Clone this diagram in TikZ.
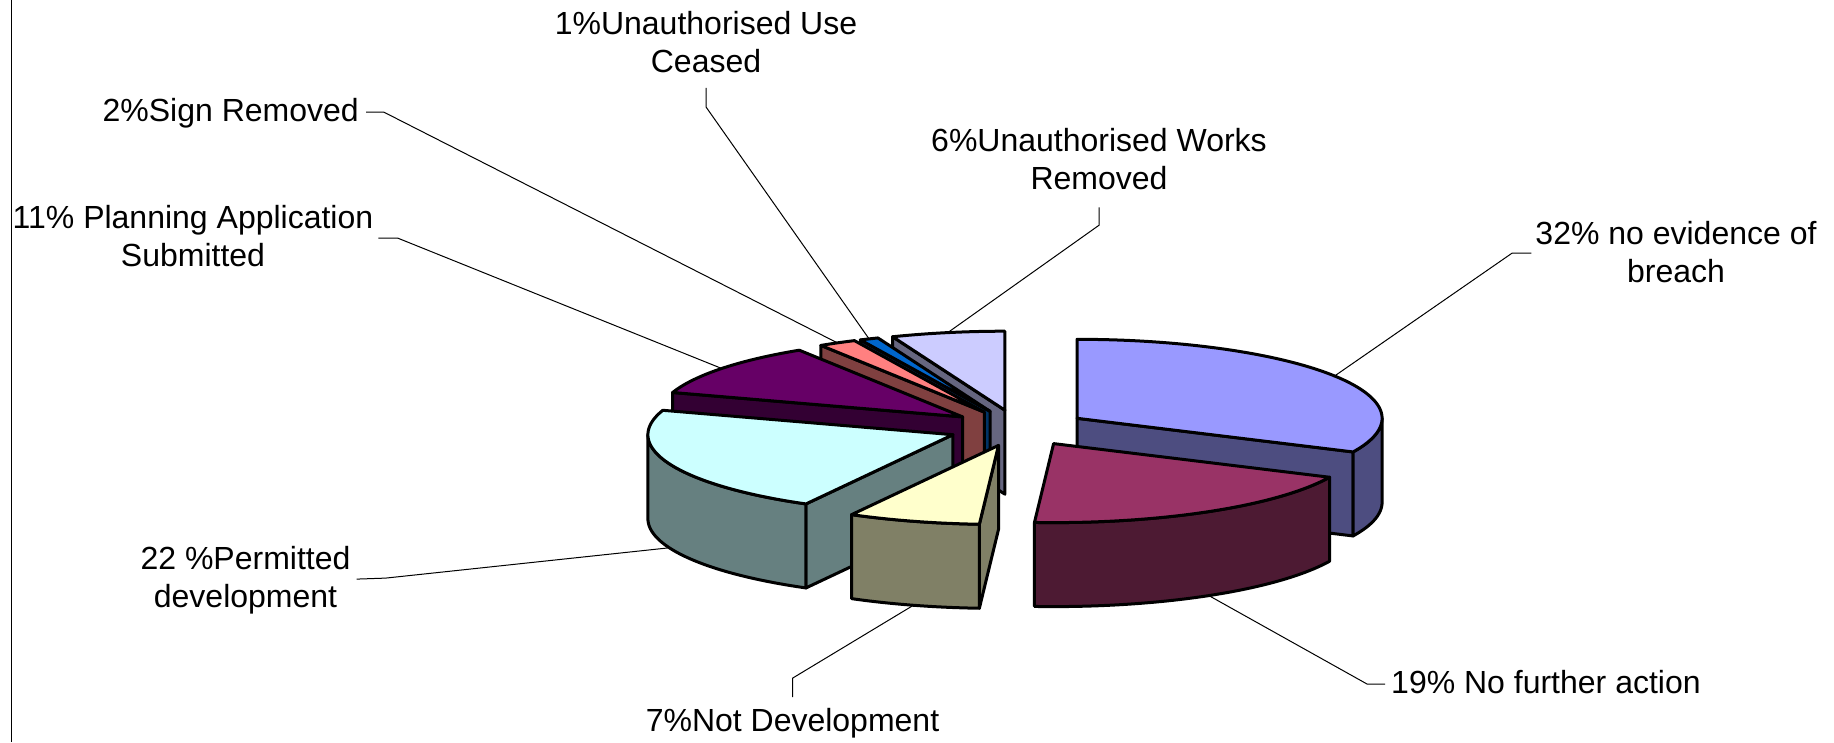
\documentclass[tikz,border=0pt]{standalone}
\usepackage{fontspec}
\setmainfont{Liberation Sans}
\def\pieRX{305}
\def\pieRY{79}
\def\pieH{84}
% wall face: apex x, apex y, angle, colour
\newcommand\wallface[4]{%
  \filldraw[pie, fill=#4] (#1,#2) -- ({#1+\pieRX*cos(#3)},{#2-\pieRY*sin(#3)})
    -- ({#1+\pieRX*cos(#3)},{#2-\pieRY*sin(#3)+\pieH}) -- (#1,{#2+\pieH}) -- cycle;}
% outer curved face: apex x, apex y, from, to, colour
\newcommand\outerface[5]{%
  \filldraw[pie, fill=#5] plot[domain=#3:#4, samples=60] ({#1+\pieRX*cos(\x)},{#2-\pieRY*sin(\x)})
    -- plot[domain=#4:#3, samples=60] ({#1+\pieRX*cos(\x)},{#2-\pieRY*sin(\x)+\pieH}) -- cycle;}
% top face: apex x, apex y, from, to, colour
\newcommand\topface[5]{%
  \filldraw[pie, fill=#5] (#1,#2) -- plot[domain=#3:#4, samples=80] ({#1+\pieRX*cos(\x)},{#2-\pieRY*sin(\x)}) -- cycle;}
\definecolor{sAt}{HTML}{9999FF}\definecolor{sAs}{HTML}{4D4D80}
\definecolor{sBt}{HTML}{993366}\definecolor{sBs}{HTML}{4D1A33}
\definecolor{sCt}{HTML}{FFFFCC}\definecolor{sCs}{HTML}{808066}
\definecolor{sDt}{HTML}{CCFFFF}\definecolor{sDs}{HTML}{668080}
\definecolor{sEt}{HTML}{660066}\definecolor{sEs}{HTML}{330033}
\definecolor{sFt}{HTML}{FF8080}\definecolor{sFs}{HTML}{804040}
\definecolor{sGt}{HTML}{0066CC}\definecolor{sGs}{HTML}{003366}
\definecolor{sHt}{HTML}{CCCCFF}\definecolor{sHs}{HTML}{666680}
\begin{document}
\begin{tikzpicture}[x=1pt,y=-1pt,
  pie/.style={draw=black, line width=3pt, line join=round},
  lbl/.style={font=\fontsize{32}{38}\selectfont, align=center, inner sep=0pt, text=black},
  leader/.style={draw=black, line width=1pt}]
\useasboundingbox (0,0) rectangle (1834,742);
\fill[white] (0,0) rectangle (1834,742);
\draw[line width=1.5pt] (11.7,0) -- (11.7,742);

% slice 8 : 6% (back)
\wallface{1004.9}{410.2}{111.6}{sHs}
\topface{1004.9}{410.2}{111.6}{90}{sHt}
% slice 7 : 1%
\wallface{990.2}{411.4}{115.2}{sGs}
\topface{990.2}{411.4}{115.2}{111.6}{sGt}
% slice 6 : 2%
\wallface{984.3}{412.1}{122.4}{sFs}
\topface{984.3}{412.1}{122.4}{115.2}{sFt}
% slice 5 : 11%
\wallface{962.7}{416.9}{162}{sEs}
\topface{962.7}{416.9}{162}{122.4}{sEt}
% slice 1 : 32%
\wallface{1077.1}{418.3}{-25.2}{sAs}
\outerface{1077.1}{418.3}{0}{-25.2}{sAs}
\topface{1077.1}{418.3}{90}{-25.2}{sAt}
% slice 4 : 22%
\wallface{952.9}{434.7}{-118.8}{sDs}
\outerface{952.9}{434.7}{-118.8}{-180}{sDs}
\topface{952.9}{434.7}{-118.8}{-198}{sDt}
% slice 3 : 7%
\wallface{998.5}{445.4}{-93.6}{sCs}
\outerface{998.5}{445.4}{-93.6}{-118.8}{sCs}
\topface{998.5}{445.4}{-93.6}{-118.8}{sCt}
% slice 2 : 19%
\outerface{1053.6}{443.6}{-25.2}{-93.6}{sBs}
\topface{1053.6}{443.6}{-25.2}{-93.6}{sBt}

% leader end points on the slices
\coordinate (e1) at ({1077.1+305*cos(32.4)},{418.3-79*sin(32.4)});
\coordinate (e2) at ({1053.6+305*cos(-59.4)},{443.6-79*sin(-59.4)+84});
\coordinate (e3) at ({998.5+305*cos(-106.2)},{445.4-79*sin(-106.2)+84});
\coordinate (e4) at ({952.9+305*cos(-158.4)},{434.7-79*sin(-158.4)+84});
\coordinate (e5) at ({962.7+305*cos(142.2)},{416.9-79*sin(142.2)});
\coordinate (e6) at ({984.3+305*cos(118.8)},{412.1-79*sin(118.8)});
\coordinate (e7) at ({990.2+305*cos(113.4)},{411.4-79*sin(113.4)});
\coordinate (e8) at ({1004.9+305*cos(100.8)},{410.2-79*sin(100.8)});

% labels
\node[lbl] (t1) at (1676,252) {32\% no evidence of\\breach};
\node[lbl, anchor=west] (t2) at (1391,682.5) {19\% No further action};
\node[lbl] (t3) at (792.5,723.3) {7\%Not Development};
\node[lbl] (t4) at (245.5,580.6) {22 \%Permitted\\development};
\node[lbl] (t5) at (193,236.5) {11\% Planning Application\\Submitted};
\node[lbl, anchor=east] (t6) at (359,113.7) {2\%Sign Removed};
\node[lbl] (t7) at (706,42) {1\%Unauthorised Use\\Ceased};
\node[lbl] (t8) at (1099,159.3) {6\%Unauthorised Works\\Removed};

% leaders
\draw[leader] (t1.west) ++(-4,1) -- ++(-19,0) -- (e1);
\draw[leader] (t2.west) ++(-6,1.5) -- ++(-18,0) -- (e2);
\draw[leader] (t3.north) ++(0,-11) -- ++(0,-19) -- (e3);
\draw[leader] (t4.east) ++(6,-1.5) -- ++(29,-1) -- (e4);
\draw[leader] (t5.east) ++(5,1.5) -- ++(19,0) -- (e5);
\draw[leader] (t6.east) ++(7,-1.5) -- ++(18,0) -- (e6);
\draw[leader] (t7.south) ++(0,15) -- ++(0,19) -- (e7);
\draw[leader] (t8.south) ++(0,17) -- ++(0,18) -- (e8);
\end{tikzpicture}
\end{document}
